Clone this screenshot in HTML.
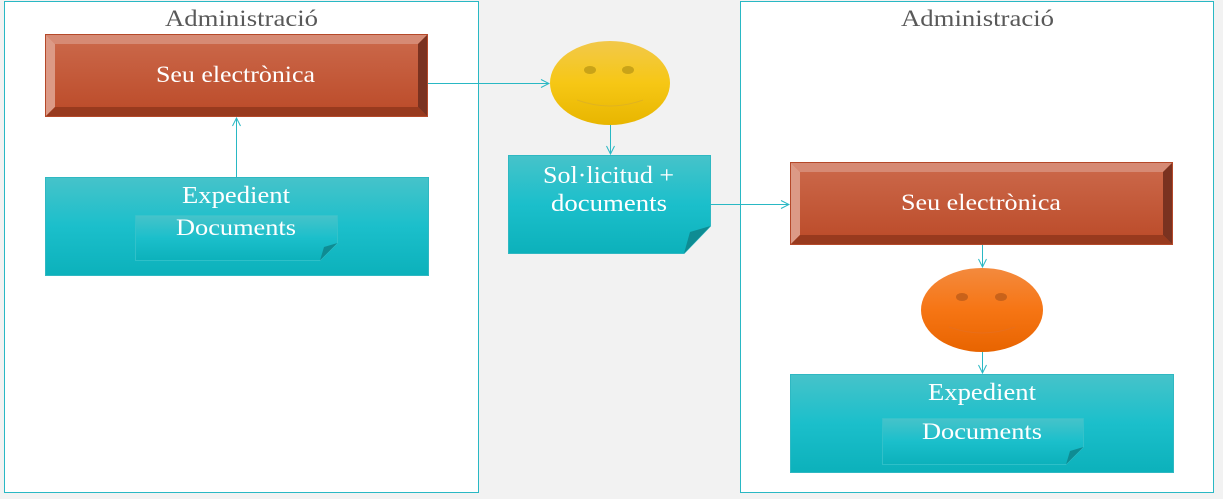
<!DOCTYPE html>
<html><head><meta charset="utf-8"><style>html,body{margin:0;padding:0;background:#f2f2f2}svg{display:block}</style></head>
<body>
<svg width="1223" height="499" viewBox="0 0 1223 499" xmlns="http://www.w3.org/2000/svg" font-family="Liberation Serif, serif">
<defs>
<linearGradient id="red" x1="0" y1="0" x2="0" y2="1"><stop offset="0" stop-color="#cc6a4c"/><stop offset="1" stop-color="#bb4a28"/></linearGradient>
<linearGradient id="teal" x1="0" y1="0" x2="0" y2="1"><stop offset="0" stop-color="#46c3ca"/><stop offset="0.5" stop-color="#1bbfcb"/><stop offset="1" stop-color="#0cb1bb"/></linearGradient>
<linearGradient id="yel" x1="0" y1="0" x2="0" y2="1"><stop offset="0" stop-color="#f2c84a"/><stop offset="0.5" stop-color="#f6c715"/><stop offset="1" stop-color="#e8b600"/></linearGradient>
<linearGradient id="org" x1="0" y1="0" x2="0" y2="1"><stop offset="0" stop-color="#f48a3e"/><stop offset="0.5" stop-color="#f67514"/><stop offset="1" stop-color="#e86400"/></linearGradient>
<marker id="a" markerWidth="10" markerHeight="10" refX="9" refY="5" orient="auto" markerUnits="userSpaceOnUse"><path d="M1,1 L9,5 L1,9" fill="none" stroke="#29b8c4" stroke-width="1"/></marker>
</defs>
<rect x="4.5" y="1.5" width="474" height="491" fill="#fff" stroke="#29b8c4"/>
<rect x="740.5" y="1.5" width="473" height="491" fill="#fff" stroke="#29b8c4"/>
<text x="165" y="26" font-size="23" fill="#595959" textLength="153" lengthAdjust="spacingAndGlyphs">Administració</text>
<text x="901" y="26" font-size="23" fill="#595959" textLength="153" lengthAdjust="spacingAndGlyphs">Administració</text>

<g id="bev">
<rect x="45" y="34" width="383" height="83" fill="url(#red)"/>
<polygon points="45,34 428,34 418,44 55,44" fill="#d68a74"/>
<polygon points="45,34 55,44 55,107 45,117" fill="#dc9a86"/>
<polygon points="428,34 428,117 418,107 418,44" fill="#7a3220"/>
<polygon points="45,117 428,117 418,107 55,107" fill="#983a1e"/>
<rect x="45.5" y="34.5" width="382" height="82" fill="none" stroke="#b5492a"/>
</g>
<text x="156" y="82" font-size="23" fill="#fff" textLength="159" lengthAdjust="spacingAndGlyphs">Seu electrònica</text>
<use href="#bev" transform="translate(745,128)"/>
<text x="901" y="210" font-size="23" fill="#fff" textLength="160" lengthAdjust="spacingAndGlyphs">Seu electrònica</text>

<rect x="45.5" y="177.5" width="383" height="98" fill="url(#teal)" stroke="#2fb8c2"/>
<text x="182" y="203" font-size="24" fill="#fff" textLength="108" lengthAdjust="spacingAndGlyphs">Expedient</text>
<polygon points="135.5,215.5 337.5,215.5 337.5,243 320,260.5 135.5,260.5" fill="url(#teal)" stroke="#3ac3cb" stroke-width="0.8"/>
<polygon points="320,260.5 324,247 337.5,243" fill="#0e8c93"/>
<text x="176" y="235" font-size="23" fill="#fff" textLength="120" lengthAdjust="spacingAndGlyphs">Documents</text>

<rect x="790.5" y="374.5" width="383" height="98" fill="url(#teal)" stroke="#2fb8c2"/>
<text x="928" y="400" font-size="24" fill="#fff" textLength="108" lengthAdjust="spacingAndGlyphs">Expedient</text>
<polygon points="882.5,418.5 1083.5,418.5 1083.5,447 1066,464.5 882.5,464.5" fill="url(#teal)" stroke="#3ac3cb" stroke-width="0.8"/>
<polygon points="1066,464.5 1070,451 1083.5,447" fill="#0e8c93"/>
<text x="922" y="439" font-size="23" fill="#fff" textLength="120" lengthAdjust="spacingAndGlyphs">Documents</text>

<polygon points="508.5,155.5 710.5,155.5 710.5,226 684,253.5 508.5,253.5" fill="url(#teal)" stroke="#2fb8c2"/>
<polygon points="684,253.5 690,232 710.5,226" fill="#0e8c93"/>
<text x="543" y="183" font-size="24" fill="#fff" textLength="131" lengthAdjust="spacingAndGlyphs">Sol·licitud +</text>
<text x="551" y="211" font-size="24" fill="#fff" textLength="116" lengthAdjust="spacingAndGlyphs">documents</text>

<ellipse cx="610" cy="83" rx="60" ry="42" fill="url(#yel)"/>
<ellipse cx="590" cy="70" rx="6" ry="4" fill="#c9a318"/>
<ellipse cx="628" cy="70" rx="6" ry="4" fill="#c9a318"/>
<path d="M577,100 Q610,112 643,100" fill="none" stroke="#e0b320" stroke-width="1"/>

<ellipse cx="982" cy="310" rx="61" ry="42" fill="url(#org)"/>
<ellipse cx="962" cy="297" rx="6" ry="4" fill="#c9621a"/>
<ellipse cx="1001" cy="297" rx="6" ry="4" fill="#c9621a"/>
<path d="M949,327 Q982,339 1015,327" fill="none" stroke="#e86e1a" stroke-width="1"/>

<g stroke="#29b8c4" stroke-width="1" fill="none" marker-end="url(#a)">
<line x1="428" y1="83.5" x2="549" y2="83.5"/>
<line x1="610.5" y1="125" x2="610.5" y2="154"/>
<line x1="710" y1="204.5" x2="789" y2="204.5"/>
<line x1="236.5" y1="177" x2="236.5" y2="118"/>
<line x1="982.5" y1="245" x2="982.5" y2="267"/>
<line x1="982.5" y1="352" x2="982.5" y2="373"/>
</g>
</svg>
</body></html>
